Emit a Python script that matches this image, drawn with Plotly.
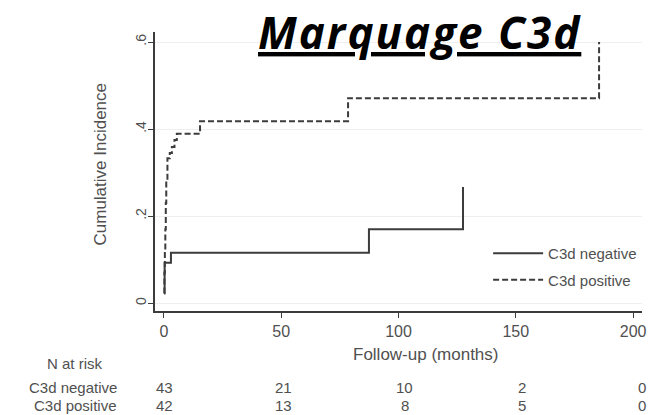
import plotly.graph_objects as go

# ---- data ----
neg_time = [0.0, 0.3, 3.0, 87.4, 127.5]
neg_ci = [0.023, 0.093, 0.116, 0.170, 0.267]

pos_time = [0.0, 0.2, 0.4, 0.6, 0.8, 1.0, 1.5, 2.5, 3.4, 4.5, 5.5, 15.4, 78.5, 185.5]
pos_ci = [0.023, 0.07, 0.12, 0.17, 0.23, 0.283, 0.333, 0.345, 0.359, 0.375, 0.389, 0.418, 0.471, 0.600]

x_ticks = [0, 50, 100, 150, 200]
y_ticks = [0, 0.2, 0.4, 0.6]
y_ticktext = ["0", ".2", ".4", ".6"]

risk_times = [0, 50, 100, 150, 200]
risk_neg = [43, 21, 10, 2, 0]
risk_pos = [42, 13, 8, 5, 0]
group_names = ["C3d negative", "C3d positive"]

title_text = "Marquage C3d"
x_title = "Follow-up (months)"
y_title = "Cumulative Incidence"
risk_title = "N at risk"

# ---- style ----
FONT = "Liberation Sans, Arial, sans-serif"
LINE_COL = "#3c3c3c"
TXT_COL = "#505050"
risk_xshift = [1, 2, 6, 6, 9]

fig = go.Figure()
fig.add_trace(go.Scatter(x=neg_time, y=neg_ci, mode="lines", line_shape="hv",
                         line=dict(color=LINE_COL, width=2), name=group_names[0],
                         legendgroup="a"))
fig.add_trace(go.Scatter(x=pos_time, y=pos_ci, mode="lines", line_shape="hv",
                         line=dict(color=LINE_COL, width=2, dash="6px,3px"),
                         name=group_names[1], legendgroup="b"))

annotations = []
# title
annotations.append(dict(text='<b><i><u><span style="letter-spacing:2px">' + title_text +
                        "</span></u></i></b>", xref="paper", yref="paper",
                        x=0.543, y=1, yshift=32, xanchor="center", yanchor="top",
                        showarrow=False,
                        font=dict(family="Open Sans, Lato, sans-serif", size=44, color="black")))
# y title
annotations.append(dict(text=y_title, xref="paper", yref="paper", x=0, y=0.5,
                        xshift=-55, yshift=7, xanchor="center", yanchor="middle",
                        textangle=-90, showarrow=False,
                        font=dict(family=FONT, size=17, color=TXT_COL)))
# x title
annotations.append(dict(text=x_title, xref="paper", yref="paper", x=0, y=0,
                        xshift=271, yshift=-43, xanchor="center", yanchor="middle",
                        showarrow=False, font=dict(family=FONT, size=17, color=TXT_COL)))
# risk table
annotations.append(dict(text=risk_title, xref="paper", yref="paper", x=0, y=0,
                        xshift=-80, yshift=-52, xanchor="center", yanchor="middle",
                        showarrow=False, font=dict(family=FONT, size=15, color=TXT_COL)))
for row, (name, vals) in enumerate(zip(group_names, [risk_neg, risk_pos])):
    ys = -76 - 18 * row
    annotations.append(dict(text=name, xref="paper", yref="paper", x=0, y=0,
                            xshift=-36, yshift=ys, xanchor="right", yanchor="middle",
                            showarrow=False, font=dict(family=FONT, size=15, color=TXT_COL)))
    for t, v, dx in zip(risk_times, vals, risk_xshift):
        annotations.append(dict(text=str(v), xref="x", yref="paper", x=t, y=0,
                                xshift=dx, yshift=ys, xanchor="center", yanchor="middle",
                                showarrow=False, font=dict(family=FONT, size=15, color=TXT_COL)))

fig.update_layout(
    width=664, height=415,
    margin=dict(l=155, r=22, t=32, b=104),
    paper_bgcolor="white", plot_bgcolor="white",
    font=dict(family=FONT, color=TXT_COL),
    showlegend=True,
    legend=dict(x=0.684, y=0.265, xanchor="left", yanchor="top",
                bgcolor="rgba(255,255,255,0)", font=dict(size=15, color=TXT_COL),
                itemwidth=50, tracegroupgap=4),
    annotations=annotations,
)
fig.update_xaxes(range=[-3.8, 203.8], tickvals=x_ticks, showgrid=False, zeroline=False,
                 showline=True, linecolor=LINE_COL, linewidth=2, ticks="outside",
                 ticklen=5, tickwidth=1, tickcolor=LINE_COL,
                 tickfont=dict(size=16, color=TXT_COL))
fig.update_yaxes(range=[-0.018, 0.623], tickvals=y_ticks, ticktext=y_ticktext, tickangle=-90,
                 showgrid=True, gridcolor="#efefef", gridwidth=1, zeroline=False,
                 showline=True, linecolor=LINE_COL, linewidth=2, ticks="outside",
                 ticklen=5, tickwidth=1, tickcolor=LINE_COL, ticklabelstandoff=-4,
                 tickfont=dict(size=14, color=TXT_COL))

fig.write_html("out.html", config={"displayModeBar": False},
               post_script="document.body.style.margin='0px';document.body.style.overflow='hidden';")
